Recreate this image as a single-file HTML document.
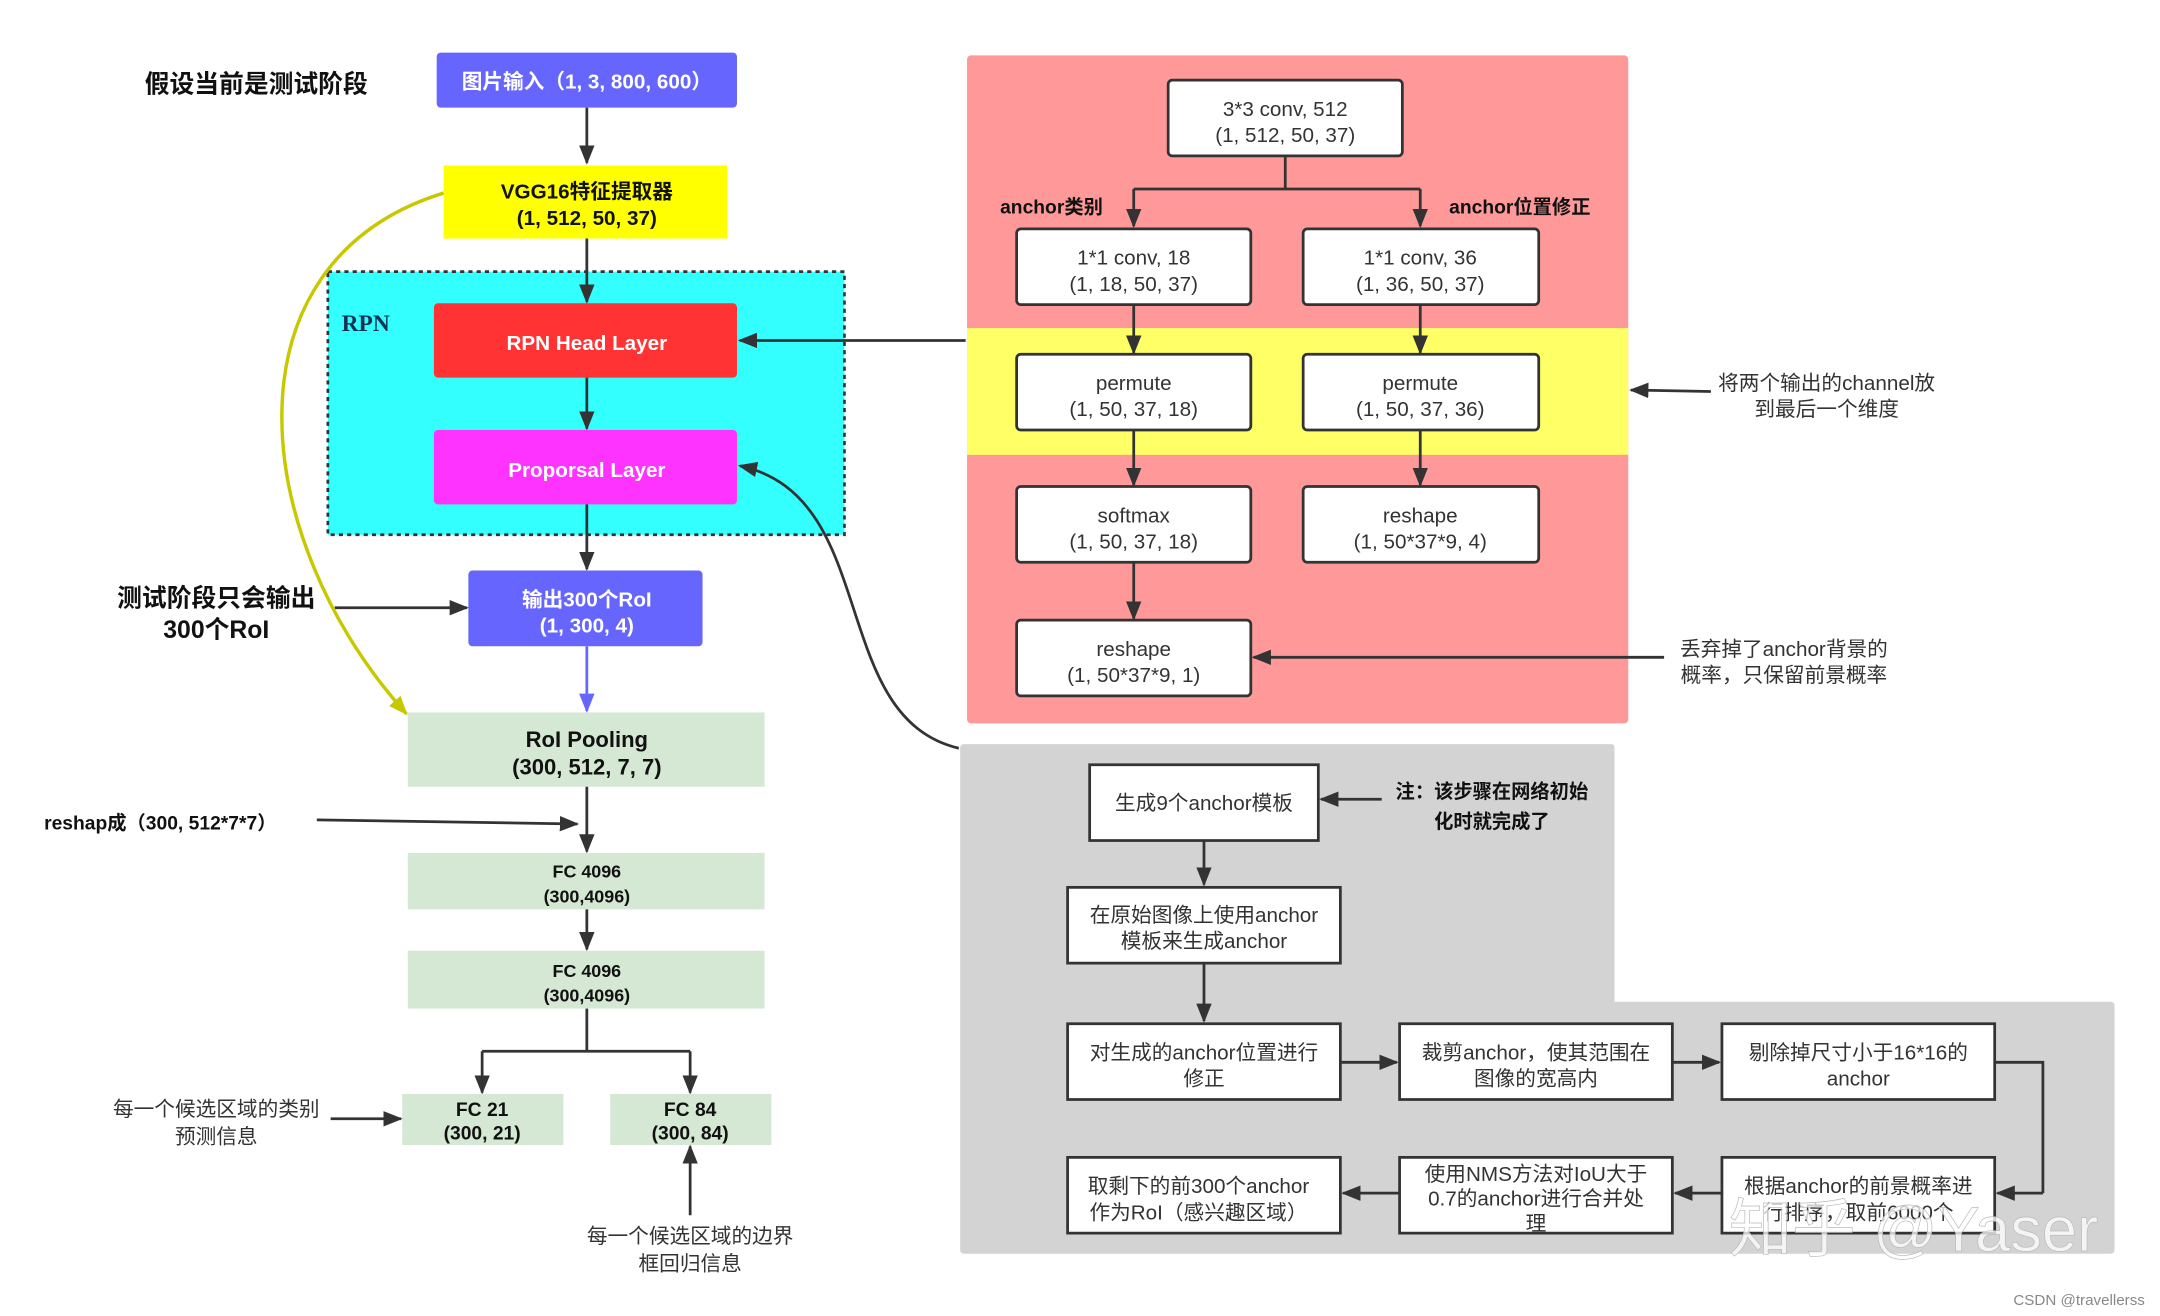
<!DOCTYPE html>
<html><head><meta charset="utf-8"><style>
html,body{margin:0;padding:0;background:#fff;}
svg{display:block;}
text{font-family:"Liberation Sans","Noto Sans CJK SC",sans-serif;}
.b{font-weight:bold;}
.w{fill:#fff;font-weight:bold;font-size:15px;}
.k{fill:#111;font-weight:bold;}
.n{fill:#333;font-size:15px;}
.box{fill:#fff;stroke:#333;stroke-width:2;}
.ln{stroke:#333;stroke-width:2;fill:none;}
</style></head><body>
<svg width="2160" height="1316" viewBox="0 0 1568 955" xmlns="http://www.w3.org/2000/svg">
<defs>
<marker id="a" viewBox="0 0 10 10" refX="9" refY="5" markerWidth="7" markerHeight="7" orient="auto" markerUnits="userSpaceOnUse"><path d="M0,0 L10,5 L0,10 z" fill="#333"/></marker>
<marker id="ab" viewBox="0 0 10 10" refX="9" refY="5" markerWidth="14" markerHeight="14" orient="auto" markerUnits="userSpaceOnUse"><path d="M0,1 L10,5 L0,9 z" fill="#333"/></marker>
<marker id="ay" viewBox="0 0 10 10" refX="9" refY="5" markerWidth="14" markerHeight="14" orient="auto" markerUnits="userSpaceOnUse"><path d="M0,1 L10,5 L0,9 z" fill="#c8c800"/></marker>
<marker id="ap" viewBox="0 0 10 10" refX="9" refY="5" markerWidth="14" markerHeight="14" orient="auto" markerUnits="userSpaceOnUse"><path d="M0,1 L10,5 L0,9 z" fill="#6666ff"/></marker>
</defs>

<!-- left column -->
<text x="186" y="67" text-anchor="middle" class="k" font-size="18">假设当前是测试阶段</text>
<rect x="317" y="38" width="218" height="40" rx="3" fill="#6666ff"/>
<text x="426" y="64" text-anchor="middle" class="w">图片输入（1, 3, 800, 600）</text>
<line x1="426" y1="78" x2="426" y2="118" class="ln" marker-end="url(#ab)"/>
<rect x="322" y="120" width="206" height="53" fill="#ffff00"/>
<text x="426" y="144" text-anchor="middle" class="k" font-size="15">VGG16特征提取器</text>
<text x="426" y="163" text-anchor="middle" class="k" font-size="15">(1, 512, 50, 37)</text>

<rect x="238" y="197" width="375" height="191" fill="#33ffff" stroke="#333" stroke-width="2" stroke-dasharray="3,3"/>
<text x="248" y="240" font-family="Liberation Serif,serif" font-weight="bold" font-size="17" fill="#135" style="font-family:'Liberation Serif',serif">RPN</text>
<line x1="426" y1="173" x2="426" y2="219" class="ln" marker-end="url(#ab)"/>
<rect x="315" y="220" width="220" height="54" rx="3" fill="#ff3333"/>
<text x="426" y="254" text-anchor="middle" class="w" font-size="16">RPN Head Layer</text>
<line x1="426" y1="274" x2="426" y2="311" class="ln" marker-end="url(#ab)"/>
<rect x="315" y="312" width="220" height="54" rx="3" fill="#ff33ff"/>
<text x="426" y="346" text-anchor="middle" class="w" font-size="16">Proporsal Layer</text>
<line x1="426" y1="366" x2="426" y2="413" class="ln" marker-end="url(#ab)"/>
<rect x="340" y="414" width="170" height="55" rx="3" fill="#6666ff"/>
<text x="426" y="440" text-anchor="middle" class="w">输出300个RoI</text>
<text x="426" y="459" text-anchor="middle" class="w">(1, 300, 4)</text>
<text x="157" y="440" text-anchor="middle" class="k" font-size="18">测试阶段只会输出</text>
<text x="157" y="463" text-anchor="middle" class="k" font-size="18">300个RoI</text>
<line x1="243" y1="441" x2="339" y2="441" class="ln" marker-end="url(#ab)"/>
<line x1="426" y1="469" x2="426" y2="516" stroke="#6666ff" stroke-width="2" marker-end="url(#ap)"/>

<path d="M322,140 C160,190 180,390 295,518" stroke="#c8c800" stroke-width="2.5" fill="none" marker-end="url(#ay)"/>

<rect x="296" y="517" width="259" height="54" fill="#d5e8d4"/>
<text x="426" y="542" text-anchor="middle" class="k" font-size="16">RoI Pooling</text>
<text x="426" y="562" text-anchor="middle" class="k" font-size="16">(300, 512, 7, 7)</text>
<text x="32" y="602" class="k" font-size="14">reshap成（300, 512*7*7）</text>
<line x1="230" y1="595" x2="419" y2="598" class="ln" marker-end="url(#ab)"/>
<line x1="426" y1="571" x2="426" y2="618" class="ln" marker-end="url(#ab)"/>
<rect x="296" y="619" width="259" height="41" fill="#d5e8d4"/>
<text x="426" y="637" text-anchor="middle" class="k" font-size="13">FC 4096</text>
<text x="426" y="655" text-anchor="middle" class="k" font-size="13">(300,4096)</text>
<line x1="426" y1="660" x2="426" y2="689" class="ln" marker-end="url(#ab)"/>
<rect x="296" y="690" width="259" height="42" fill="#d5e8d4"/>
<text x="426" y="709" text-anchor="middle" class="k" font-size="13">FC 4096</text>
<text x="426" y="727" text-anchor="middle" class="k" font-size="13">(300,4096)</text>
<path d="M426,732 V763 M350,763 H501" class="ln"/>
<line x1="350" y1="763" x2="350" y2="793" class="ln" marker-end="url(#ab)"/>
<line x1="501" y1="763" x2="501" y2="793" class="ln" marker-end="url(#ab)"/>
<rect x="292" y="794" width="117" height="37" fill="#d5e8d4"/>
<text x="350" y="810" text-anchor="middle" class="k" font-size="14">FC 21</text>
<text x="350" y="827" text-anchor="middle" class="k" font-size="14">(300, 21)</text>
<rect x="443" y="794" width="117" height="37" fill="#d5e8d4"/>
<text x="501" y="810" text-anchor="middle" class="k" font-size="14">FC 84</text>
<text x="501" y="827" text-anchor="middle" class="k" font-size="14">(300, 84)</text>
<text x="157" y="810" text-anchor="middle" class="n">每一个候选区域的类别</text>
<text x="157" y="830" text-anchor="middle" class="n">预测信息</text>
<line x1="240" y1="812" x2="291" y2="812" class="ln" marker-end="url(#ab)"/>
<text x="501" y="902" text-anchor="middle" class="n">每一个候选区域的边界</text>
<text x="501" y="922" text-anchor="middle" class="n">框回归信息</text>
<line x1="501" y1="882" x2="501" y2="832" class="ln" marker-end="url(#ab)"/>

<!-- right pink panel -->
<rect x="702" y="40" width="480" height="485" rx="3" fill="#ff9999"/>
<rect x="702" y="238" width="480" height="92" fill="#ffff66"/>
<rect x="848" y="58" width="170" height="55" rx="3" class="box"/>
<text x="933" y="84" text-anchor="middle" class="n">3*3 conv, 512</text>
<text x="933" y="103" text-anchor="middle" class="n">(1, 512, 50, 37)</text>
<path d="M933,113 V137 M823,137 H1031" class="ln"/>
<line x1="823" y1="137" x2="823" y2="164" class="ln" marker-end="url(#ab)"/>
<line x1="1031" y1="137" x2="1031" y2="164" class="ln" marker-end="url(#ab)"/>
<text x="726" y="155" class="k" font-size="14">anchor类别</text>
<text x="1052" y="155" class="k" font-size="14">anchor位置修正</text>
<rect x="738" y="166" width="170" height="55" rx="3" class="box"/>
<text x="823" y="192" text-anchor="middle" class="n">1*1 conv, 18</text>
<text x="823" y="211" text-anchor="middle" class="n">(1, 18, 50, 37)</text>
<rect x="946" y="166" width="171" height="55" rx="3" class="box"/>
<text x="1031" y="192" text-anchor="middle" class="n">1*1 conv, 36</text>
<text x="1031" y="211" text-anchor="middle" class="n">(1, 36, 50, 37)</text>
<line x1="823" y1="221" x2="823" y2="256" class="ln" marker-end="url(#ab)"/>
<line x1="1031" y1="221" x2="1031" y2="256" class="ln" marker-end="url(#ab)"/>
<rect x="738" y="257" width="170" height="55" rx="3" class="box"/>
<text x="823" y="283" text-anchor="middle" class="n">permute</text>
<text x="823" y="302" text-anchor="middle" class="n">(1, 50, 37, 18)</text>
<rect x="946" y="257" width="171" height="55" rx="3" class="box"/>
<text x="1031" y="283" text-anchor="middle" class="n">permute</text>
<text x="1031" y="302" text-anchor="middle" class="n">(1, 50, 37, 36)</text>
<line x1="823" y1="312" x2="823" y2="352" class="ln" marker-end="url(#ab)"/>
<line x1="1031" y1="312" x2="1031" y2="352" class="ln" marker-end="url(#ab)"/>
<rect x="738" y="353" width="170" height="55" rx="3" class="box"/>
<text x="823" y="379" text-anchor="middle" class="n">softmax</text>
<text x="823" y="398" text-anchor="middle" class="n">(1, 50, 37, 18)</text>
<rect x="946" y="353" width="171" height="55" rx="3" class="box"/>
<text x="1031" y="379" text-anchor="middle" class="n">reshape</text>
<text x="1031" y="398" text-anchor="middle" class="n">(1, 50*37*9, 4)</text>
<line x1="823" y1="408" x2="823" y2="449" class="ln" marker-end="url(#ab)"/>
<rect x="738" y="450" width="170" height="55" rx="3" class="box"/>
<text x="823" y="476" text-anchor="middle" class="n">reshape</text>
<text x="823" y="495" text-anchor="middle" class="n">(1, 50*37*9, 1)</text>
<line x1="1208" y1="477" x2="910" y2="477" class="ln" marker-end="url(#ab)"/>
<text x="1295" y="476" text-anchor="middle" class="n">丢弃掉了anchor背景的</text>
<text x="1295" y="495" text-anchor="middle" class="n">概率，只保留前景概率</text>
<line x1="1242" y1="284" x2="1184" y2="283" class="ln" marker-end="url(#ab)"/>
<text x="1326" y="283" text-anchor="middle" class="n">将两个输出的channel放</text>
<text x="1326" y="302" text-anchor="middle" class="n">到最后一个维度</text>
<line x1="701" y1="247" x2="537" y2="247" class="ln" marker-end="url(#ab)"/>
<path d="M696,543 C600,520 640,360 537,338" class="ln" marker-end="url(#ab)"/>

<!-- gray panel -->
<path d="M700,540 H1170 Q1172,540 1172,543 V727 H1532 Q1535,727 1535,730 V907 Q1535,910 1532,910 H700 Q697,910 697,907 V543 Q697,540 700,540 z" fill="#d3d3d3"/>
<rect x="791" y="555" width="166" height="55" class="box"/>
<text x="874" y="588" text-anchor="middle" class="n">生成9个anchor模板</text>
<line x1="1003" y1="580" x2="959" y2="580" class="ln" marker-end="url(#ab)"/>
<text x="1083" y="579" text-anchor="middle" class="k" font-size="14">注：该步骤在网络初始</text>
<text x="1083" y="601" text-anchor="middle" class="k" font-size="14">化时就完成了</text>
<line x1="874" y1="610" x2="874" y2="642" class="ln" marker-end="url(#ab)"/>
<rect x="775" y="644" width="198" height="55" class="box"/>
<text x="874" y="669" text-anchor="middle" class="n">在原始图像上使用anchor</text>
<text x="874" y="688" text-anchor="middle" class="n">模板来生成anchor</text>
<line x1="874" y1="699" x2="874" y2="741" class="ln" marker-end="url(#ab)"/>
<rect x="775" y="743" width="198" height="55" class="box"/>
<text x="874" y="769" text-anchor="middle" class="n">对生成的anchor位置进行</text>
<text x="874" y="788" text-anchor="middle" class="n">修正</text>
<rect x="1016" y="743" width="198" height="55" class="box"/>
<text x="1115" y="769" text-anchor="middle" class="n">裁剪anchor，使其范围在</text>
<text x="1115" y="788" text-anchor="middle" class="n">图像的宽高内</text>
<rect x="1250" y="743" width="198" height="55" class="box"/>
<text x="1349" y="769" text-anchor="middle" class="n">剔除掉尺寸小于16*16的</text>
<text x="1349" y="788" text-anchor="middle" class="n">anchor</text>
<line x1="973" y1="771" x2="1014" y2="771" class="ln" marker-end="url(#ab)"/>
<line x1="1214" y1="771" x2="1248" y2="771" class="ln" marker-end="url(#ab)"/>
<path d="M1448,771 H1483 V866" class="ln"/>
<line x1="1483" y1="866" x2="1450" y2="866" class="ln" marker-end="url(#ab)"/>
<rect x="775" y="840" width="198" height="55" class="box"/>
<text x="870" y="866" text-anchor="middle" class="n">取剩下的前300个anchor</text>
<text x="870" y="885" text-anchor="middle" class="n">作为RoI（感兴趣区域）</text>
<rect x="1016" y="840" width="198" height="55" class="box"/>
<text x="1115" y="857" text-anchor="middle" class="n">使用NMS方法对IoU大于</text>
<text x="1115" y="875" text-anchor="middle" class="n">0.7的anchor进行合并处</text>
<text x="1115" y="893" text-anchor="middle" class="n">理</text>
<rect x="1250" y="840" width="198" height="55" class="box"/>
<text x="1349" y="866" text-anchor="middle" class="n">根据anchor的前景概率进</text>
<text x="1349" y="885" text-anchor="middle" class="n">行排序，取前6000个</text>
<line x1="1250" y1="866" x2="1216" y2="866" class="ln" marker-end="url(#ab)"/>
<line x1="1016" y1="866" x2="975" y2="866" class="ln" marker-end="url(#ab)"/>
<text x="1255" y="908" font-size="46" fill="#fff" fill-opacity="0.75" stroke="#bbb" stroke-width="0.5">知乎 @Yaser</text>
<text x="1557" y="947" text-anchor="end" font-size="11" fill="#888">CSDN @travellerss</text>
</svg>
</body></html>
